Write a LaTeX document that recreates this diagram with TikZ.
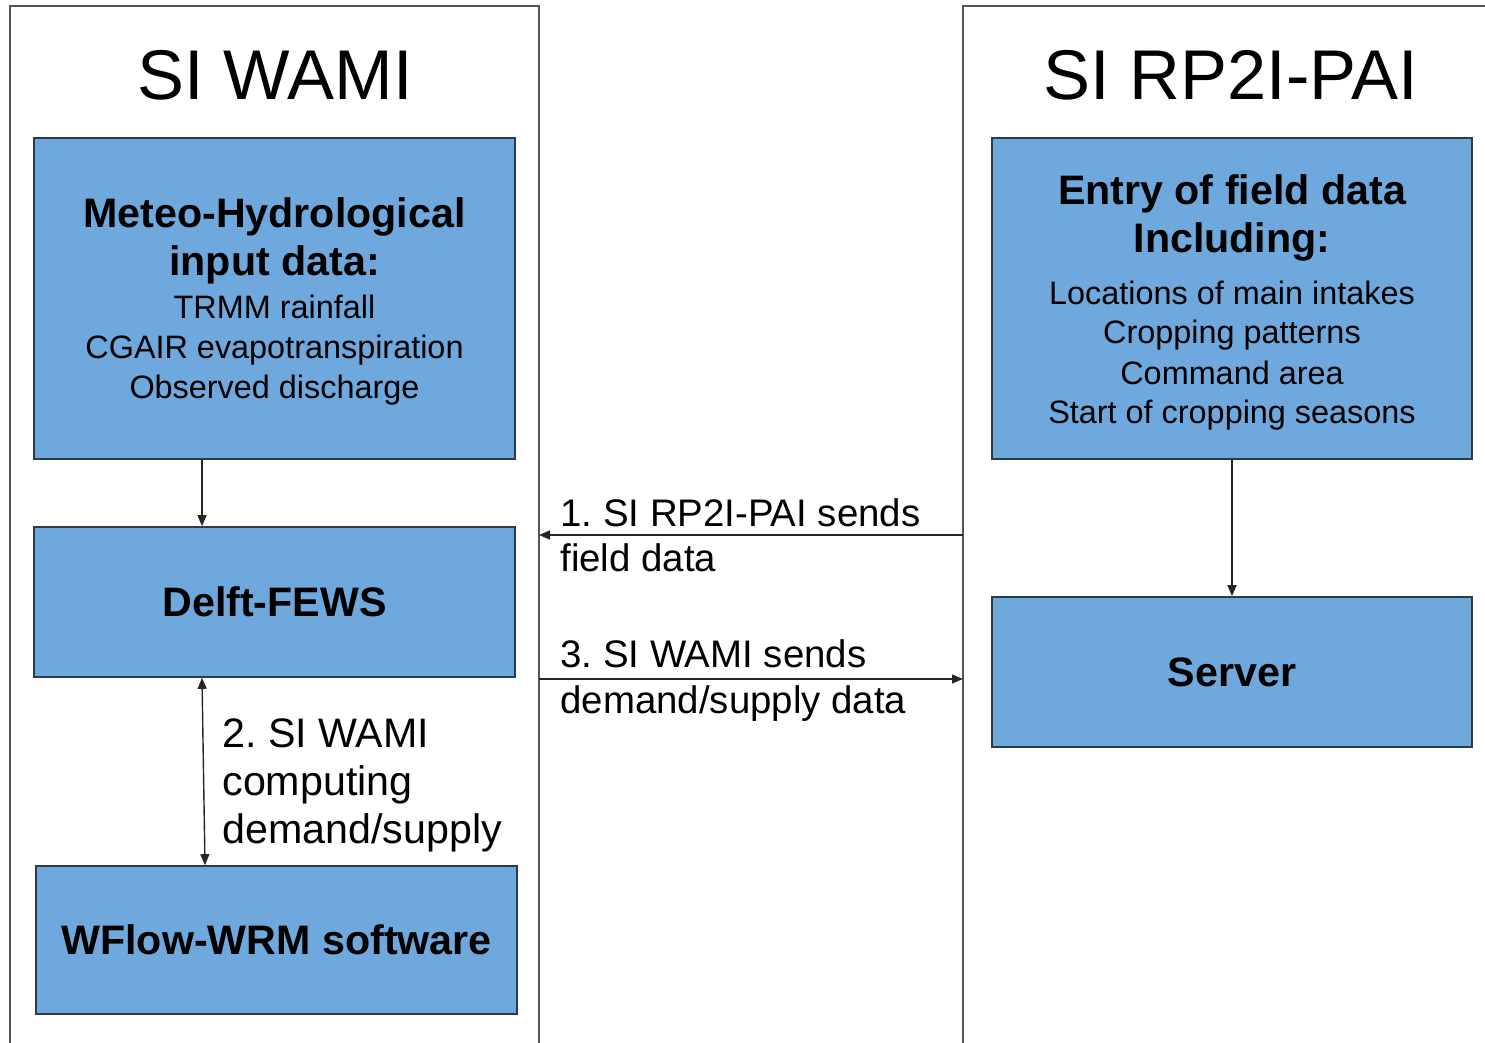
\documentclass[tikz,border=0pt]{standalone}
\usepackage{fontspec}
\setmainfont{Liberation Sans}
\usetikzlibrary{positioning,arrows.meta}

\definecolor{boxblue}{HTML}{6FA8DC}
\definecolor{boxline}{HTML}{2E3A46}
\definecolor{frameline}{HTML}{555555}

\tikzset{
  sysbox/.style={draw=boxline, line width=0.8pt, fill=boxblue, inner sep=0pt,
    font=\bfseries\fontsize{20.6}{24}\selectfont},
  titletext/.style={font=\fontsize{35.2}{40}\selectfont, anchor=base, inner sep=0pt},
  headtext/.style={font=\bfseries\fontsize{20.6}{24}\selectfont, align=center, anchor=base, inner sep=0pt},
  listtext/.style={font=\fontsize{16.2}{20}\selectfont, align=center, anchor=base, inner sep=0pt},
  steplabel/.style={font=\fontsize{19.2}{23}\selectfont\frenchspacing, align=left, anchor=base west, inner sep=0pt},
  flow/.style={draw=black!85, line width=0.7pt, -{Triangle[length=5.5pt,width=4.5pt]}},
}

\begin{document}
\begin{tikzpicture}[x=0.5pt, y=-0.5pt]
\useasboundingbox (0,0) rectangle (1485,1043);

% system frames
\draw[frameline, line width=1pt] (10,1043) -- (10,6) -- (539,6) -- (539,1043);
\draw[frameline, line width=1pt] (963,1043) -- (963,6) -- (1485,6);
\node[titletext] (wamititle) at (275.5,100) {SI WAMI};
\node[titletext] (rpititle) at (1231,100) {SI RP2I-PAI};

% SI WAMI side (multi-line texts sit on their last baseline)
\node[sysbox, minimum width=240.5pt, minimum height=160.5pt] (meteo) at (274.5,298.5) {};
\node[headtext] (meteohead) at (274.5,276) {Meteo-Hydrological\\input data:};
\node[listtext] (meteolist) at (274.5,399) {TRMM rainfall\\CGAIR evapotranspiration\\Observed discharge};
\node[sysbox, minimum width=240.5pt, minimum height=75pt] (delft) at (274.5,602) {Delft-FEWS};
\node[sysbox, minimum width=240.5pt, minimum height=74pt] (wflow) at (276.5,940) {WFlow-WRM software};

% SI RP2I-PAI side
\node[sysbox, minimum width=240pt, minimum height=160.5pt] (entry) at (1232,298.5) {};
\node[headtext] (entryhead) at (1232,253) {Entry of field data\\Including:};
\node[listtext] (entrylist) at (1232,424) {Locations of main intakes\\Cropping patterns\\Command area\\Start of cropping seasons};
\node[sysbox, minimum width=240pt, minimum height=75pt] (server) at (1232,672) {Server};

% connectors
\coordinate (rpout) at (963,535);
\coordinate (wamiin) at (539,535);
\coordinate (wamiout) at (539,679);
\coordinate (rpin) at (963,679);

\draw[flow] (202,0 |- meteo.south) -- (202,0 |- delft.north);
\draw[flow, {Triangle[length=5.5pt,width=4.5pt]}-{Triangle[length=5.5pt,width=4.5pt]}] (202,0 |- delft.south) -- (205,0 |- wflow.north);
\draw[flow] (entry.south) -- (server.north);
\draw[flow] (rpout) -- (wamiin);
\draw[flow] (wamiout) -- (rpin);

% step labels
\node[steplabel] (stepone) at (560,572) {1. SI RP2I-PAI sends\\field data};
\node[steplabel, font=\fontsize{20.6}{24}\selectfont\frenchspacing] (steptwo) at (222,843) {2. SI WAMI\\computing\\demand/supply};
\node[steplabel] (stepthree) at (560,713) {3. SI WAMI sends\\demand/supply data};

\end{tikzpicture}
\end{document}
